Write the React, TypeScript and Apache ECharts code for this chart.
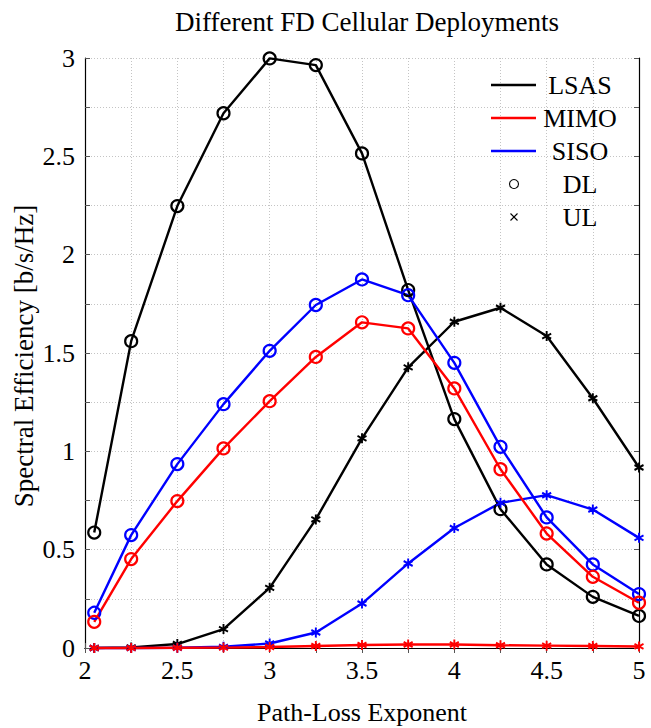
import React, { useEffect, useRef } from "react";
import * as echarts from "echarts";

const pathLossExponent = [2.05, 2.25, 2.5, 2.75, 3, 3.25, 3.5, 3.75, 4, 4.25, 4.5, 4.75, 5];

const lsasDL = [0.587, 1.56, 2.247, 2.719, 2.998, 2.964, 2.515, 1.82, 1.164, 0.706, 0.425, 0.26, 0.163];
const lsasUL = [0.0, 0.003, 0.02, 0.096, 0.306, 0.654, 1.066, 1.427, 1.659, 1.73, 1.586, 1.27, 0.918];
const sisoDL = [0.179, 0.574, 0.935, 1.24, 1.511, 1.744, 1.874, 1.794, 1.45, 1.023, 0.664, 0.425, 0.274];
const sisoUL = [0.0, 0.0, 0.001, 0.006, 0.023, 0.079, 0.226, 0.43, 0.61, 0.738, 0.777, 0.704, 0.56];
const mimoDL = [0.133, 0.452, 0.747, 1.015, 1.255, 1.48, 1.656, 1.625, 1.32, 0.909, 0.582, 0.362, 0.23];
const mimoUL = [0.0, 0.0, 0.001, 0.002, 0.005, 0.01, 0.015, 0.018, 0.018, 0.014, 0.012, 0.01, 0.008];

const legendNames = ["LSAS", "MIMO", "SISO", "DL", "UL"];
const chartTitle = "Different FD Cellular Deployments";
const xTitle = "Path-Loss Exponent";
const yTitle = "Spectral Efficiency [b/s/Hz]";

const FONT = "'Liberation Serif', 'Times New Roman', serif";
const BLACK = "#000000";
const RED = "#ff0000";
const BLUE = "#0000ff";
const ASTERISK = "path://M0,-5L0,5M-4.33,-2.5L4.33,2.5M-4.33,2.5L4.33,-2.5";

const pairs = (ys: number[]) => pathLossExponent.map((x, i) => [x, ys[i]]);

const isHalf = (v: number) => Math.abs(v * 2 - Math.round(v * 2)) < 1e-9;

function dlSeries(name: string, ys: number[], color: string) {
  return {
    type: "line",
    name,
    data: pairs(ys),
    clip: false,
    symbol: "circle",
    symbolSize: 12,
    lineStyle: { color, width: 2.4 },
    itemStyle: { color: "rgba(0,0,0,0)", borderColor: color, borderWidth: 2.2 },
    emphasis: { disabled: true },
  };
}

function ulSeries(name: string, ys: number[], color: string) {
  return {
    type: "line",
    name,
    data: pairs(ys),
    clip: false,
    symbol: ASTERISK,
    symbolSize: [9, 10],
    lineStyle: { color, width: 2.4 },
    itemStyle: { color, borderColor: color, borderWidth: 2 },
    emphasis: { disabled: true },
  };
}

export default function App() {
  const ref = useRef<HTMLDivElement>(null);

  useEffect(() => {
    if (!ref.current) return;
    const chart = echarts.init(ref.current, undefined, { renderer: "svg" });

    const gridLeft = 85;
    const gridTop = 58;
    const gridW = 554;
    const gridH = 590;

    const tickStyle = { show: true, inside: true, length: 5, lineStyle: { color: "#555", width: 1 } };
    const axisLine = { show: true, lineStyle: { color: BLACK, width: 1.2 } };
    const split = { show: true, lineStyle: { color: "#c4c4c4", type: [1, 2], width: 1 } };

    const legX1 = 491;
    const legX2 = 536;
    const legMarkX = 514;
    const legTextX = 580;
    const legRows = [85, 118, 151, 184, 217];
    const legColors = [BLACK, RED, BLUE];

    const graphic: any[] = [];
    legColors.forEach((c, i) => {
      graphic.push({
        type: "line",
        shape: { x1: legX1, y1: legRows[i], x2: legX2, y2: legRows[i] },
        style: { stroke: c, lineWidth: 2.4 },
        z: 100,
      });
    });
    graphic.push({
      type: "circle",
      shape: { cx: legMarkX, cy: legRows[3], r: 4.5 },
      style: { stroke: BLACK, fill: "none", lineWidth: 1.1 },
      z: 100,
    });
    graphic.push({
      type: "line",
      shape: { x1: legMarkX - 3.5, y1: legRows[4] - 3.5, x2: legMarkX + 3.5, y2: legRows[4] + 3.5 },
      style: { stroke: BLACK, lineWidth: 1.1 },
      z: 100,
    });
    graphic.push({
      type: "line",
      shape: { x1: legMarkX - 3.5, y1: legRows[4] + 3.5, x2: legMarkX + 3.5, y2: legRows[4] - 3.5 },
      style: { stroke: BLACK, lineWidth: 1.1 },
      z: 100,
    });
    legendNames.forEach((n, i) => {
      graphic.push({
        type: "text",
        x: legTextX,
        y: legRows[i],
        style: {
          text: n,
          fill: BLACK,
          font: `26px ${FONT}`,
          align: "center",
          verticalAlign: "middle",
        },
        z: 100,
      });
    });
    graphic.push({
      type: "text",
      x: gridLeft + gridW / 2,
      y: 712,
      style: { text: xTitle, fill: BLACK, font: `26px ${FONT}`, align: "center", verticalAlign: "middle" },
    });
    graphic.push({
      type: "text",
      x: 24,
      y: gridTop + gridH / 2 + 3,
      rotation: Math.PI / 2,
      style: { text: yTitle, fill: BLACK, font: `27px ${FONT}`, align: "center", verticalAlign: "middle" },
    });

    chart.setOption({
      animation: false,
      title: {
        text: chartTitle,
        left: gridLeft + gridW / 2,
        textAlign: "center",
        top: 3,
        textStyle: { fontFamily: FONT, fontSize: 27, fontWeight: "normal", color: BLACK },
      },
      grid: {
        left: gridLeft,
        top: gridTop,
        width: gridW,
        height: gridH,
        show: false,
      },
      xAxis: [
        {
          type: "value",
          min: 2,
          max: 5,
          interval: 0.25,
          position: "bottom",
          axisLine,
          axisTick: tickStyle,
          splitLine: split,
          axisLabel: {
            margin: 9,
            fontFamily: FONT,
            fontSize: 26,
            color: BLACK,
            showMinLabel: true,
            showMaxLabel: true,
            formatter: (v: number) => (isHalf(v) ? String(v) : ""),
          },
        },
        {
          type: "value",
          min: 2,
          max: 5,
          interval: 0.25,
          position: "top",
          axisLine,
          axisTick: tickStyle,
          splitLine: { show: false },
          axisLabel: { show: false },
        },
      ],
      yAxis: [
        {
          type: "value",
          min: 0,
          max: 3,
          interval: 0.25,
          position: "left",
          axisLine,
          axisTick: tickStyle,
          splitLine: split,
          axisLabel: {
            margin: 10,
            fontFamily: FONT,
            fontSize: 26,
            color: BLACK,
            showMinLabel: true,
            showMaxLabel: true,
            formatter: (v: number) => (isHalf(v) ? String(v) : ""),
          },
        },
        {
          type: "value",
          min: 0,
          max: 3,
          interval: 0.25,
          position: "right",
          axisLine,
          axisTick: tickStyle,
          splitLine: { show: false },
          axisLabel: { show: false },
        },
      ],
      graphic,
      series: [
        dlSeries("LSAS DL", lsasDL, BLACK),
        ulSeries("LSAS UL", lsasUL, BLACK),
        dlSeries("SISO DL", sisoDL, BLUE),
        ulSeries("SISO UL", sisoUL, BLUE),
        dlSeries("MIMO DL", mimoDL, RED),
        ulSeries("MIMO UL", mimoUL, RED),
      ],
    });

    return () => chart.dispose();
  }, []);

  return (
    <div
      ref={ref}
      style={{ position: "absolute", left: 0, top: 0, width: 651, height: 728, background: "#fff" }}
    />
  );
}
